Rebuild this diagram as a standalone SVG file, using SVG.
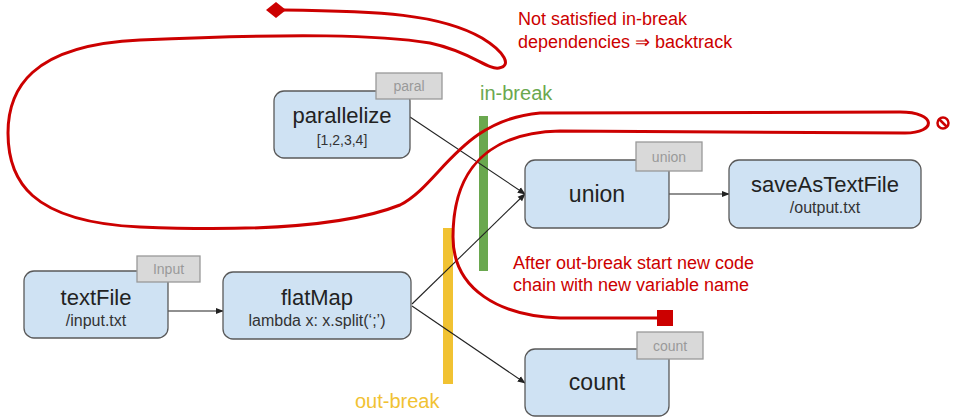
<svg xmlns="http://www.w3.org/2000/svg" width="953" height="420" viewBox="0 0 953 420">
  <defs>
    <style>
      .node rect.box { fill: #cfe2f3; stroke: #595959; stroke-width: 1.3; }
      .tag rect { fill: #d9d9d9; stroke: #999999; stroke-width: 1.3; }
      .tag text { font-family: "Liberation Sans", Arial, sans-serif; font-size: 14px; fill: #999999; text-anchor: middle; }
      .title { font-family: "Liberation Sans", Arial, sans-serif; font-size: 22px; fill: #222222; text-anchor: middle; }
      .sub { font-family: "Liberation Sans", Arial, sans-serif; font-size: 16px; fill: #333333; text-anchor: middle; }
      .edge { stroke: #222222; stroke-width: 1.1; fill: none; marker-end: url(#arrow); }
      .note { font-family: "Liberation Sans", Arial, sans-serif; font-size: 18px; fill: #cc0000; }
      .flow { stroke: #cc0000; stroke-width: 3; fill: none; stroke-linejoin: round; stroke-linecap: round; }
    </style>
    <marker id="arrow" viewBox="0 0 10 10" refX="9" refY="5" markerWidth="8" markerHeight="8" markerUnits="userSpaceOnUse" orient="auto">
      <path d="M0,1 L10,5 L0,9 Z" fill="#222222"/>
    </marker>
  </defs>

  <!-- break markers -->
  <g id="breaks">
    <rect x="479" y="116" width="9" height="155" fill="#6aa84f"/>
    <text x="480" y="100" font-family="Liberation Sans, Arial, sans-serif" font-size="20" fill="#6aa84f">in-break</text>
    <rect x="443" y="228" width="10" height="156" fill="#f1c232"/>
    <text x="355" y="408" font-family="Liberation Sans, Arial, sans-serif" font-size="20" fill="#f1c232">out-break</text>
  </g>

  <!-- connectors -->
  <g id="connectors">
    <line class="edge" x1="168" y1="311" x2="223" y2="311"/>
    <line class="edge" x1="410" y1="117" x2="525" y2="194"/>
    <line class="edge" x1="412" y1="304" x2="525" y2="194"/>
    <line class="edge" x1="412" y1="306" x2="525" y2="383"/>
    <line class="edge" x1="669" y1="194" x2="729" y2="194"/>
  </g>

  <!-- nodes -->
  <g id="parallelize" class="node">
    <rect class="box" x="274" y="91" width="136" height="67" rx="10"/>
    <text class="title" x="342" y="123">parallelize</text>
    <text class="sub" x="342" y="145" style="font-size:14px">[1,2,3,4]</text>
    <g class="tag"><rect x="376" y="73" width="66" height="26"/><text x="409" y="91">paral</text></g>
  </g>

  <g id="textFile" class="node">
    <rect class="box" x="24" y="271" width="144" height="67" rx="10"/>
    <text class="title" x="96" y="305">textFile</text>
    <text class="sub" x="96" y="326">/input.txt</text>
    <g class="tag"><rect x="137" y="256" width="63" height="26"/><text x="168.5" y="274">Input</text></g>
  </g>

  <g id="flatMap" class="node">
    <rect class="box" x="223" y="272" width="188" height="67" rx="10"/>
    <text class="title" x="317" y="305">flatMap</text>
    <text class="sub" x="317" y="326">lambda x: x.split(‘;’)</text>
  </g>

  <g id="union" class="node">
    <rect class="box" x="525" y="160" width="144" height="68" rx="10"/>
    <text class="title" x="597" y="202" style="font-size:23px">union</text>
    <g class="tag"><rect x="636" y="142" width="66" height="29"/><text x="669" y="162">union</text></g>
  </g>

  <g id="saveAsTextFile" class="node">
    <rect class="box" x="729" y="160" width="192" height="68" rx="10"/>
    <text class="title" x="825" y="192">saveAsTextFile</text>
    <text class="sub" x="825" y="213">/output.txt</text>
  </g>

  <g id="count" class="node">
    <rect class="box" x="525" y="349" width="144" height="67" rx="10"/>
    <text class="title" x="597" y="390" style="font-size:23px">count</text>
    <g class="tag"><rect x="637" y="332" width="66" height="27"/><text x="670" y="351">count</text></g>
  </g>

  <!-- execution flow with backtracking -->
  <g id="flow">
    <path class="flow" d="M 283 10 C 380 11, 440 14, 482 38 C 505 52, 512 66, 499 68 C 487 70, 472 52, 430 43 C 380 35, 300 33, 140 40 C 30 45, 8 90, 8 133 C 8 180, 30 222, 140 227 C 260 232, 350 225, 400 205 C 440 185, 460 120, 540 113 L 900 112 C 937 112, 937 133, 905 133 L 560 131 C 470 133, 453 190, 453 237 C 453 290, 500 316, 560 318 L 660 318"/>
    <polygon points="266,10 276,2 286,10 276,18" fill="#cc0000"/>
    <rect x="657" y="310" width="16" height="16" fill="#cc0000"/>
    <circle cx="943" cy="123" r="5.5" fill="none" stroke="#cc0000" stroke-width="2.5"/>
    <line x1="939" y1="119" x2="947" y2="127" stroke="#cc0000" stroke-width="2.5"/>
    <text class="note" x="518" y="25">Not satisfied in-break</text>
    <text class="note" x="518" y="48">dependencies ⇒ backtrack</text>
    <text class="note" x="513" y="269">After out-break start new code</text>
    <text class="note" x="513" y="291">chain with new variable name</text>
  </g>
</svg>
